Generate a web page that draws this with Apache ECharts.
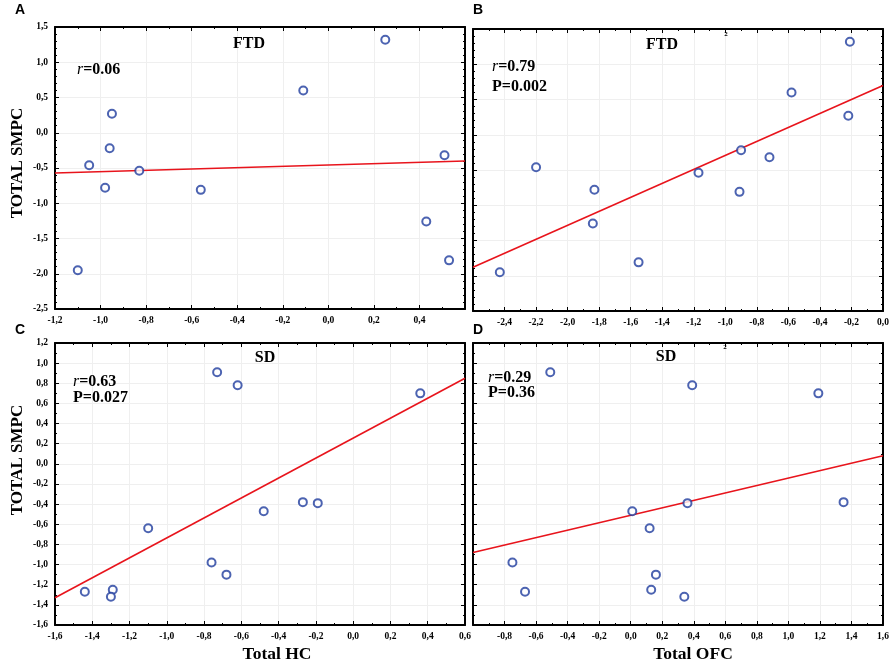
<!DOCTYPE html>
<html style="height: 100%">
   <head>
       <meta charset="utf-8">
   </head>
   <body style="height: 100%; margin: 0; background: #fff">
       <div id="container" style="width: 896px; height: 667px"></div>
       <script type="text/javascript" src="https://cdn.jsdelivr.net/npm/echarts@6/dist/echarts.min.js"></script>
       <script type="text/javascript">
// FTD group (panels A, B)
var ftdSMPC = [1.32, 0.60, 0.27, -0.22, -0.46, -0.78, -0.54, -0.81, -1.95, -0.32, -1.26, -1.81];
var ftdHC   = [0.25, -0.11, -0.95, -0.96, -1.05, -0.98, -0.83, -0.56, -1.10, 0.51, 0.43, 0.53];
var ftdOFC  = [-0.21, -0.58, -0.22, -0.90, -2.20, -1.83, -1.17, -0.91, -2.43, -0.72, -1.84, -1.55];
// SD group (panels C, D)
var sdSMPC = [0.91, 0.78, 0.70, -0.38, -0.39, -0.47, -0.64, -0.98, -1.10, -1.27, -1.25, -1.32];
var sdHC   = [-0.73, -0.62, 0.36, -0.27, -0.19, -0.48, -1.10, -0.76, -0.68, -1.44, -1.29, -1.30];
var sdOFC  = [-0.51, 0.39, 1.19, 1.35, 0.36, 0.01, 0.12, -0.75, 0.16, -0.67, 0.13, 0.34];
// regression lines, end points
var fitA = [[-1.2, -0.57], [0.6, -0.40]];
var fitB = [[-2.6, -1.88], [0.0, 0.70]];
var fitC = [[-1.6, -1.33], [0.6, 0.85]];
var fitD = [[-1.0, -0.88], [1.6, 0.08]];

var dom = document.getElementById("container");
var myChart = echarts.init(dom, null, {renderer: 'canvas'});

function pairs(xs, ys) {
    return xs.map(function (x, i) { return [x, ys[i]]; });
}
function fmt(v) {
    if (Math.abs(v) < 1e-9) v = 0;
    return v.toFixed(1).replace('.', ',');
}

var serif = 'Liberation Serif';
// panel layout: grid box, x range, y range, which labels to show
var panels = [
    {left: 55,  top: 27,  xmin: -1.2, xmax: 0.6, ymin: -2.5, ymax: 1.5, yint: 0.5, ySplit: 5, showY: true,  showMinX: true,  showMaxX: false, pts: pairs(ftdHC, ftdSMPC), fit: fitA},
    {left: 473, top: 29,  xmin: -2.6, xmax: 0.0, ymin: -2.5, ymax: 1.5, yint: 0.5, ySplit: 5, showY: false, showMinX: false, showMaxX: true,  pts: pairs(ftdOFC, ftdSMPC), fit: fitB},
    {left: 55,  top: 343, xmin: -1.6, xmax: 0.6, ymin: -1.6, ymax: 1.2, yint: 0.2, ySplit: 2, showY: true,  showMinX: true,  showMaxX: true,  pts: pairs(sdHC, sdSMPC), fit: fitC},
    {left: 473, top: 343, xmin: -1.0, xmax: 1.6, ymin: -1.6, ymax: 1.2, yint: 0.2, ySplit: 2, showY: false, showMinX: false, showMaxX: true,  pts: pairs(sdOFC, sdSMPC), fit: fitD}
];

var grids = [], xAxes = [], yAxes = [], series = [];
var labelStyle = {fontFamily: serif, fontWeight: 'bold', fontSize: 9.5, color: '#000'};

panels.forEach(function (p, i) {
    grids.push({left: p.left, top: p.top, width: 410, height: 282, containLabel: false});
    var common = {
        gridIndex: i,
        type: 'value',
        axisLine: {show: true, onZero: false, lineStyle: {color: '#000', width: 2}},
        axisTick: {show: true, inside: true, length: 4, lineStyle: {color: '#000', width: 1}},
        minorTick: {show: true, length: 2, lineStyle: {color: '#000', width: 1}}
    };
    // bottom + top x axes
    xAxes.push(Object.assign({}, common, {
        position: 'bottom', min: p.xmin, max: p.xmax, interval: 0.2,
        minorTick: Object.assign({}, common.minorTick, {splitNumber: 2}),
        axisLabel: Object.assign({show: true, margin: 7, formatter: fmt,
            showMinLabel: p.showMinX, showMaxLabel: p.showMaxX}, labelStyle),
        splitLine: {show: true, lineStyle: {color: '#efefef', width: 1}}
    }));
    xAxes.push(Object.assign({}, common, {
        position: 'top', min: p.xmin, max: p.xmax, interval: 0.2,
        minorTick: Object.assign({}, common.minorTick, {splitNumber: 2}),
        axisLabel: {show: false}, splitLine: {show: false}
    }));
    // left + right y axes
    yAxes.push(Object.assign({}, common, {
        position: 'left', min: p.ymin, max: p.ymax, interval: p.yint,
        minorTick: Object.assign({}, common.minorTick, {splitNumber: p.ySplit}),
        axisLabel: Object.assign({show: p.showY, margin: 7, formatter: fmt}, labelStyle),
        splitLine: {show: true, lineStyle: {color: '#efefef', width: 1}}
    }));
    yAxes.push(Object.assign({}, common, {
        position: 'right', min: p.ymin, max: p.ymax, interval: p.yint,
        minorTick: Object.assign({}, common.minorTick, {splitNumber: p.ySplit}),
        axisLabel: {show: false}, splitLine: {show: false}
    }));

    series.push({
        type: 'line', xAxisIndex: i * 2, yAxisIndex: i * 2,
        data: p.fit, symbol: 'none', silent: true, z: 3,
        lineStyle: {color: '#e8141c', width: 1.6}
    });
    series.push({
        type: 'scatter', xAxisIndex: i * 2, yAxisIndex: i * 2,
        data: p.pts, symbol: 'circle', symbolSize: 8, z: 4,
        itemStyle: {color: '#fff', borderColor: '#1f3c9e', borderWidth: 2}
    });
});

function txt(x, y, text, size, opts) {
    return {
        type: 'text', x: x, y: y, z: 100,
        style: Object.assign({
            text: text, fill: '#000', font: 'bold ' + size + 'px "' + serif + '"',
            textAlign: 'center', textVerticalAlign: 'middle'
        }, opts || {})
    };
}
function stat(x, y, value) {
    return {
        type: 'text', x: x, y: y, z: 100,
        style: {
            text: '{i|r}{b|=' + value + '}',
            textAlign: 'left', textVerticalAlign: 'middle',
            rich: {
                i: {fontFamily: serif, fontStyle: 'italic', fontSize: 16, fill: '#000'},
                b: {fontFamily: serif, fontWeight: 'bold', fontSize: 16, fill: '#000'}
            }
        }
    };
}
var sans = {font: 'bold 14px "Liberation Sans"'};

var graphics = [
    txt(20, 10, 'A', 14, sans),
    txt(478, 10, 'B', 14, sans),
    txt(20, 330, 'C', 14, sans),
    txt(478, 330, 'D', 14, sans),
    txt(249, 44, 'FTD', 16),
    txt(662, 45, 'FTD', 16),
    txt(265, 358, 'SD', 16),
    txt(666, 357, 'SD', 16),
    txt(726, 34, '2', 7),
    txt(725, 347, '2', 7),
    stat(77, 70, '0.06'),
    stat(492, 67, '0.79'),
    txt(492, 87, 'P=0.002', 16, {textAlign: 'left'}),
    stat(73, 382, '0.63'),
    txt(73, 398, 'P=0.027', 16, {textAlign: 'left'}),
    stat(488, 378, '0.29'),
    txt(488, 393, 'P=0.36', 16, {textAlign: 'left'}),
    Object.assign(txt(0, 0, 'TOTAL SMPC', 17), {x: 18, y: 163, rotation: Math.PI / 2}),
    Object.assign(txt(0, 0, 'TOTAL SMPC', 17), {x: 18, y: 460, rotation: Math.PI / 2}),
    txt(277, 654, 'Total HC', 17.5),
    txt(693, 654, 'Total OFC', 17.5)
];

var option = {
    animation: false,
    backgroundColor: '#fff',
    grid: grids,
    xAxis: xAxes,
    yAxis: yAxes,
    series: series,
    graphic: graphics
};

if (option && typeof option === "object") {
    myChart.setOption(option, true);
}
       </script>
   </body>
</html>
